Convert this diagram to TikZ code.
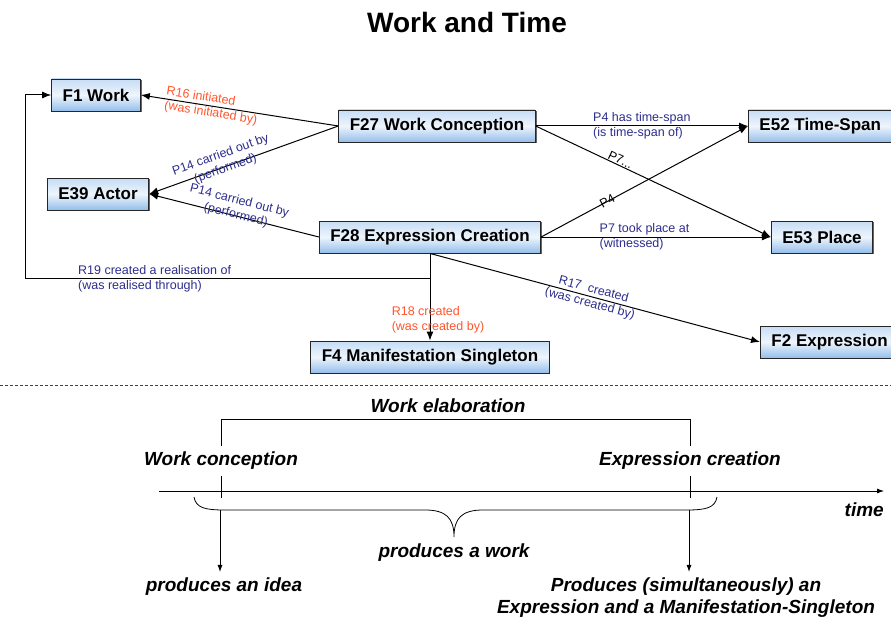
\documentclass[tikz,border=0pt]{standalone}
\usepackage{fontspec}
\setmainfont{Liberation Sans}
\usetikzlibrary{arrows.meta, shadows}

\definecolor{boxtop}{RGB}{198,220,245}
\definecolor{boxmid}{RGB}{238,245,252}
\definecolor{boxbot}{RGB}{148,190,235}
\definecolor{relblue}{RGB}{45,45,140}
\definecolor{relred}{RGB}{255,85,45}

\tikzset{
  ent/.style={draw=black!85, line width=.9pt, top color=boxtop, bottom color=boxbot,
    middle color=boxmid, minimum height=32pt, inner xsep=11pt,
    font=\fontsize{17}{20}\selectfont\bfseries,
    drop shadow={shadow xshift=1.3pt, shadow yshift=-1.3pt, fill=black!60, opacity=1}},
  rel/.style={line width=1pt, -{Latex[length=9pt,width=7pt]}},
  lbl/.style={font=\fontsize{12.5}{14.5}\selectfont, text=relblue, inner sep=1pt, align=center},
  evt/.style={font=\fontsize{19}{22}\selectfont\bfseries\itshape, inner xsep=3pt, inner ysep=6pt},
  tl/.style={line width=.8pt},
  tlarr/.style={line width=.8pt, -{Latex[length=7pt,width=5pt]}},
}

\begin{document}
\begin{tikzpicture}[x=1pt, y=-1pt]
  \useasboundingbox (0,0) rectangle (891,623);

  \node[font=\fontsize{28}{32}\selectfont\bfseries] (title) at (467,22) {Work and Time};

  % entities
  \node[ent] (f1) at (96,95) {F1 Work};
  \node[ent] (f27) at (437,126) {F27 Work Conception};
  \node[ent] (e39) at (98,194) {E39 Actor};
  \node[ent] (f28) at (430,237) {F28 Expression Creation};
  \node[ent, anchor=west] (e52) at (748,126) {E52 Time-Span};
  \node[ent] (e53) at (822,237) {E53 Place};
  \node[ent] (f4) at (430,357) {F4 Manifestation Singleton};
  \node[ent, anchor=west] (f2) at (760,342) {F2 Expression};
  \coordinate (bend) at (25,278);

  % properties
  \draw[rel] (f27.west) -- node[lbl, text=relred, sloped, pos=.64, align=left] {R16 initiated\\(was initiated by)} (f1.east);
  \draw[rel] (f27.west) -- node[lbl, sloped, pos=.6, yshift=5pt] {P14 carried out by\\(performed)} (e39.east);
  \draw[rel] (f28.west) -- node[lbl, sloped, pos=.49, yshift=8pt] {P14 carried out by\\(performed)} (e39.east);
  \draw[rel] (f27.east) -- node[lbl, align=left] {P4 has time-span\\(is time-span of)} (e52.west);
  \draw[rel] (f27.east) -- node[lbl, text=black, sloped, pos=.35, above] {P7...} (e53.west);
  \draw[rel] (f28.east) -- node[lbl, text=black, sloped, pos=.32] {P4} (e52.west);
  \draw[rel] (f28.east) -- node[lbl, align=left, pos=.45] {P7 took place at\\(witnessed)} (e53.west);
  \draw[rel] (f28.south) -- node[lbl, text=relred, align=left, pos=.76, xshift=8pt] {R18 created\\(was created by)} (f4.north);
  \draw[rel] (f28.south) -- node[lbl, sloped, pos=.49] {R17\ \ created\\(was created by)} (f2.west);
  \draw[rel] (f28.south) |- node[lbl, align=left, pos=.84, yshift=-1pt] {R19 created a realisation of\\(was realised through)} (bend) |- (f1.west);

  \draw[dash pattern=on 3pt off 2pt, line width=.6pt, black!75] (0,385) -- (891,385);

  % time line
  \node[evt] (welab) at (448,406) {Work elaboration};
  \node[evt] (wc) at (221,461) {Work conception};
  \node[evt] (ec) at (690,461) {Expression creation};
  \node[evt] (pwork) at (454,553) {produces a work};
  \node[evt] (idea) at (224,587) {produces an idea};
  \node[evt, align=center] (both) at (686,598) {Produces (simultaneously) an\\Expression and a Manifestation-Singleton};
  \node[evt, anchor=east] (time) at (887,510) {time};
  \coordinate (ax0) at (159,491);
  \coordinate (ax1) at (884,491);
  \coordinate (bl) at (220,510);
  \coordinate (br) at (689,510);

  \draw[tl] (wc.north) |- (welab.south) -| (ec.north);
  \draw[tlarr] (ax0) -- (ax1);
  \draw[tl] (wc.south) -- ++(0,22);
  \draw[tl] (ec.south) -- ++(0,22);
  \draw[tl] (194,497) .. controls (196,508) and (205,510) .. (225,510) -- (425,510)
    .. controls (446,510) and (454,518) .. (454,537)
    .. controls (454,518) and (462,510) .. (483,510) -- (686,510)
    .. controls (706,510) and (715,508) .. (717,497);
  \draw[tlarr] (bl) -- (bl |- idea.north);
  \draw[tlarr] (br) -- (br |- both.north);
\end{tikzpicture}
\end{document}
